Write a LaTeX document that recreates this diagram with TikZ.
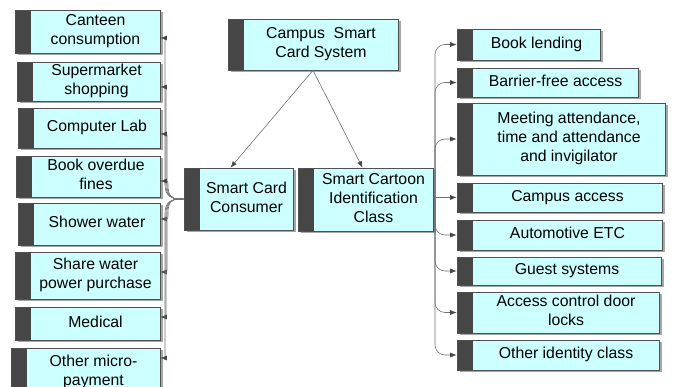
\documentclass[tikz,border=0pt]{standalone}
\usepackage{fontspec}
\setmainfont{Liberation Sans}
\usetikzlibrary{arrows.meta,shadows}
\definecolor{boxfill}{RGB}{204,255,255}
\definecolor{bardark}{RGB}{70,70,70}
\definecolor{boxline}{RGB}{80,80,80}
\definecolor{connline}{RGB}{110,110,110}
\newcommand\bt[1]{\hspace*{16pt}\begin{tabular}{@{}c@{}}#1\end{tabular}}
\begin{document}
\begin{tikzpicture}[x=1pt,y=-1pt,
  cbox/.style={draw=boxline, line width=0.6pt, fill=boxfill, inner sep=0pt,
    font=\fontsize{15.8}{18.8}\selectfont,
    drop shadow={shadow xshift=2.5pt, shadow yshift=-2.5pt, fill=black!35, opacity=1},
    path picture={\fill[bardark] (path picture bounding box.north west) rectangle ([xshift=16pt]path picture bounding box.south west);}},
  conn/.style={draw=connline, line width=0.6pt, -{Latex[length=6.5pt,width=5pt,color=bardark]}},
]
\useasboundingbox (0,0) rectangle (673,387);
% helper: box from (x1,y1) to (x2,y2)
\newcommand\cb[6]{\node[cbox, minimum width={#4-#2}, minimum height={#5-#3}] (#1) at ({(#2+#4)/2},{(#3+#5)/2}) {\bt{#6}};}
% left boxes
\cb{L1}{15}{10}{160}{53}{Canteen\\consumption}
\cb{L2}{17}{62}{160}{101}{Supermarket\\shopping}
\cb{L3}{18}{108}{160}{148}{Computer Lab}
\cb{L4}{16}{156}{160}{197}{Book overdue\\fines}
\cb{L5}{18}{203}{160}{245}{Shower water}
\cb{L6}{15}{252}{160}{299}{Share water\\power purchase}
\cb{L7}{15}{307}{160}{340}{Medical}
\cb{L8}{11}{348}{160}{396}{Other micro-\\payment}
% center boxes
\cb{top}{228}{19}{398}{70}{Campus~~Smart\\Card System}
\cb{cons}{184}{168}{293}{230}{Smart Card\\Consumer}
\cb{ident}{298}{168}{433}{231}{Smart Cartoon\\Identification\\Class}
% right boxes
\cb{R1}{457}{29}{600}{60}{Book lending}
\cb{R2}{457}{68}{638}{97}{Barrier-free access}
\cb{R3}{457}{103}{665}{175}{Meeting attendance,\\time and attendance\\and invigilator}
\cb{R4}{457}{183}{662}{212}{Campus access}
\cb{R5}{457}{220}{662}{250}{Automotive ETC}
\cb{R6}{457}{257}{661}{285}{Guest systems}
\cb{R7}{457}{292}{659}{333}{Access control door\\locks}
\cb{R8}{457}{340}{659}{370}{Other identity class}
% top to middle
\draw[conn] (top.south) -- ([xshift=-8pt]cons.north);
\draw[conn] (top.south) -- ([xshift=-3pt]ident.north);
% left fan
\coordinate (lf) at (179,199);
\foreach \b/\ty/\s/\tx in {L1/38/-1/165,L2/87/-1/166,L3/134/-1/167,L4/181/-1/168,L5/219/1/168,L6/272/1/167,L7/317/1/166,L8/358/1/165}{
  \draw[conn] (cons.west) -- (lf) .. controls (172,199) and (\tx,{199+\s*3}) .. (\tx,{199+\s*14}) -- (\tx,{\ty-\s*7}) .. controls (\tx,\ty) .. (\b.east |- 0,\ty);
}
% right trunk
\coordinate (rt) at (435,199);
\foreach \b in {R1,R2,R3,R5,R6,R7,R8}{
  \draw[conn, rounded corners=10pt] (rt) |- (\b.west);
}
\draw[conn] (ident.east |- R4.west) -- (R4.west);
\end{tikzpicture}
\end{document}
